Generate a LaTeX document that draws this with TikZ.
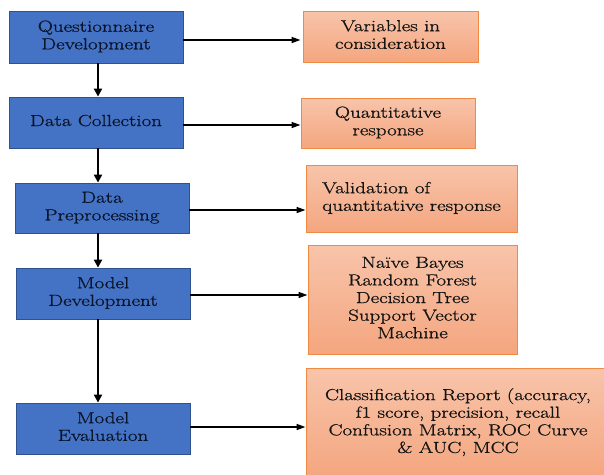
\documentclass[tikz,border=0pt]{standalone}
\usepackage{fontspec}
\usepackage{graphicx}
\newfontfamily\hv{Latin Modern Roman}[FakeBold=0.8]
\usetikzlibrary{arrows.meta}
\definecolor{bfill}{HTML}{4472C4}
\definecolor{bdraw}{HTML}{2F528F}
\definecolor{btext}{HTML}{0A1428}
\definecolor{otop}{HTML}{F8C4AA}
\definecolor{obot}{HTML}{F4A67F}
\definecolor{odraw}{HTML}{F08A43}
\definecolor{otext}{HTML}{141414}
\newcommand\stx[2]{\scalebox{1.31}[1]{\begin{tabular}{@{}#1@{}}#2\end{tabular}}}
\begin{document}
\begin{tikzpicture}[x=1pt,y=1pt,
 txt/.style={font=\hv\fontsize{16}{17.6}\selectfont},
 bluebox/.style={txt, draw=bdraw, line width=0.8pt, fill=bfill, text=btext, inner sep=0pt},
 orbox/.style={txt, draw=odraw, line width=1pt, top color=otop, bottom color=obot, text=otext, inner sep=0pt},
 varr/.style={line width=2pt, -{Triangle[width=8pt,length=8pt]}},
 harr/.style={line width=1.5pt, -{Triangle[width=6pt,length=9pt]}}]
\useasboundingbox (0,-474) rectangle (604,0);
\fill[white] (0,-474) rectangle (604,0);

\node[bluebox, minimum width=174pt, minimum height=52pt] (b1) at (96,-37) {\stx{c}{Questionnaire\\Development}};
\node[bluebox, minimum width=174pt, minimum height=51pt] (b2) at (96,-122.5) {\stx{c}{Data Collection}};
\node[bluebox, minimum width=174pt, minimum height=50pt] (b3) at (102,-208) {\stx{c}{Data\\Preprocessing}};
\node[bluebox, minimum width=174pt, minimum height=51pt] (b4) at (103,-293.5) {\stx{c}{Model\\Development}};
\node[bluebox, minimum width=174pt, minimum height=51pt] (b5) at (103,-428.5) {\stx{c}{Model\\Evaluation}};

\node[orbox, minimum width=175pt, minimum height=51pt] (o1) at (390.5,-36.5) {\stx{c}{Variables in\\consideration}};
\node[orbox, minimum width=174pt, minimum height=50pt] (o2) at (388,-123) {\stx{c}{Quantitative\\response}};
\node[orbox, minimum width=211pt, minimum height=67pt] (o3) at (411.5,-198.5) {\stx{l}{Validation of\\quantitative response}};
\node[orbox, minimum width=209pt, minimum height=109pt] (o4) at (412.5,-299.5) {\stx{c}{Naïve Bayes\\Random Forest\\Decision Tree\\Support Vector\\Machine}};
\node[orbox, minimum width=304pt, minimum height=110pt] (o5) at (458,-423) {\stx{c}{Classification Report (accuracy,\\f1 score, precision, recall\\Confusion Matrix, ROC Curve\\\& AUC, MCC}};

\draw[varr] ([xshift=2pt]b1.south) -- ([xshift=2pt]b1.south |- b2.north);
\draw[varr] ([xshift=2pt]b2.south) -- ([xshift=2pt]b2.south |- b3.north);
\draw[varr] ([xshift=-4pt]b3.south) -- ([xshift=-4pt]b3.south |- b4.north);
\draw[varr] ([xshift=-5pt]b4.south) -- ([xshift=-5pt]b4.south |- b5.north);

\draw[harr] ([yshift=-3pt]b1.east) -- ([yshift=-3pt,xshift=-2pt]b1.east -| o1.west);
\draw[harr] ([yshift=-2.5pt]b2.east) -- ([yshift=-2.5pt]b2.east -| o2.west);
\draw[harr] ([yshift=-2pt]b3.east) -- ([yshift=-2pt]b3.east -| o3.west);
\draw[harr] ([yshift=-1.5pt]b4.east) -- ([yshift=-1.5pt]b4.east -| o4.west);
\draw[harr] ([yshift=1.5pt]b5.east) -- ([yshift=1.5pt]b5.east -| o5.west);
\end{tikzpicture}
\end{document}
